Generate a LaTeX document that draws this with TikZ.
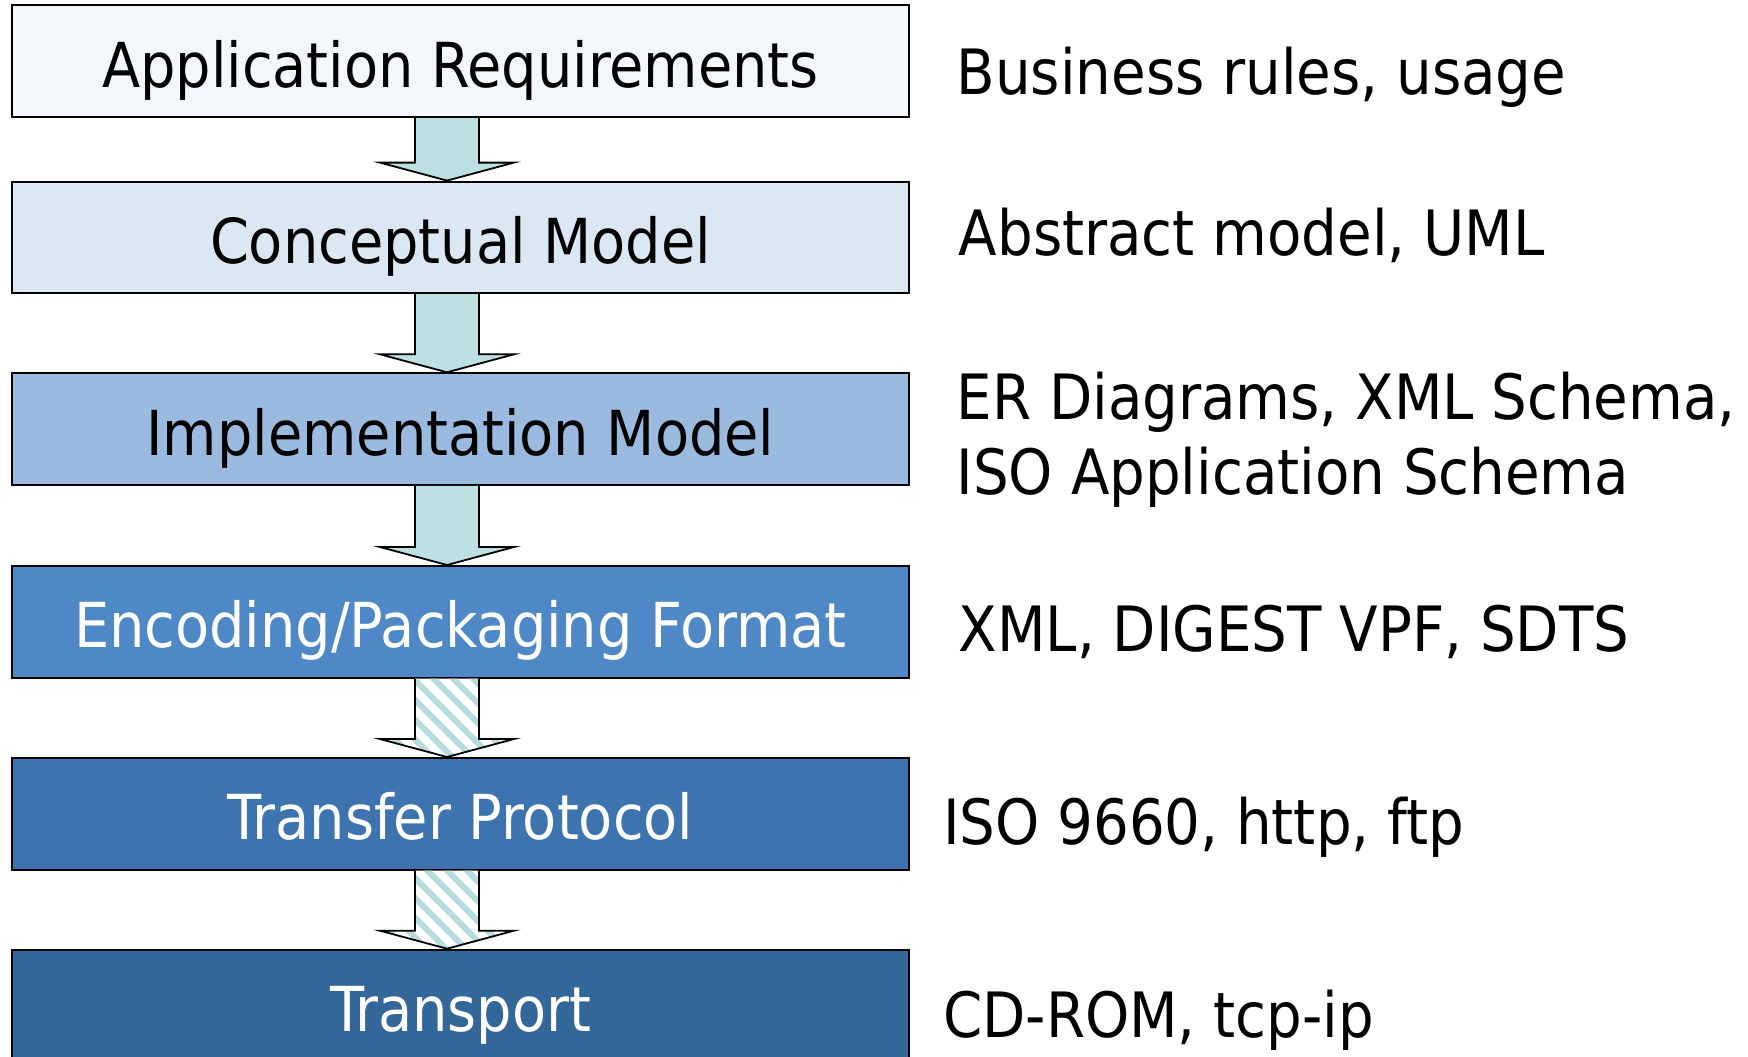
\documentclass[tikz,border=0pt]{standalone}
\usepackage{fontspec}
\setmainfont{DejaVu Sans Condensed}
\usetikzlibrary{calc,patterns.meta}
\definecolor{cA}{HTML}{F4F8FC}
\definecolor{cB}{HTML}{DCE7F4}
\definecolor{cC}{HTML}{9BBADF}
\definecolor{cD}{HTML}{4F88C6}
\definecolor{cE}{HTML}{3D74B0}
\definecolor{cF}{HTML}{336699}
\definecolor{arrowfill}{HTML}{BDE0E2}
\definecolor{stripe}{HTML}{B6DCDF}
\tikzset{
  layerbox/.style={draw=black, line width=2pt, minimum width=897pt, minimum height=111.5pt,
    inner sep=0pt, text height=52pt, text depth=0pt, anchor=north west,
    font=\fontsize{62}{70}\selectfont},
  sidelabel/.style={anchor=base west, inner sep=0pt, font=\fontsize{62.5}{70}\selectfont},
  solidarrow/.style={draw=black, line width=1.8pt, fill=arrowfill, line join=miter},
  hatcharrow/.style={draw=black, line width=1.8pt, line join=miter, preaction={fill=white},
    pattern={Lines[angle=-45,distance=14pt,line width=6pt]}, pattern color=stripe}
}
\newcommand\flowarrow[3]{%
  \draw[#3] ($(#1.south -| ax)+(-32,0)$) -- ($(#2.north -| ax)+(-32,-18)$)
    -- ($(#2.north -| ax)+(-67,-18)$) -- (#2.north -| ax)
    -- ($(#2.north -| ax)+(67,-18)$) -- ($(#2.north -| ax)+(32,-18)$)
    -- ($(#1.south -| ax)+(32,0)$);}
\begin{document}
\begin{tikzpicture}[x=1pt,y=-1pt]
\clip (0,0) rectangle (1748,1057);
\fill[white] (0,0) rectangle (1748,1057);
\coordinate (ax) at (447,0);
% boxes
\node[layerbox, fill=cA, text=black] (b1) at (11,4.5) {Application Requirements};
\node[layerbox, fill=cB, text=black] (b2) at (11,180.6) {Conceptual Model};
\node[layerbox, fill=cC, text=black] (b3) at (11,372.3) {Implementation Model};
\node[layerbox, fill=cD, text=white] (b4) at (11,565) {Encoding/Packaging Format};
\node[layerbox, fill=cE, text=white] (b5) at (11,757) {Transfer Protocol};
\node[layerbox, fill=cF, text=white] (b6) at (11,948.7) {Transport};
% arrows
\flowarrow{b1}{b2}{solidarrow}
\flowarrow{b2}{b3}{solidarrow}
\flowarrow{b3}{b4}{solidarrow}
\flowarrow{b4}{b5}{hatcharrow}
\flowarrow{b5}{b6}{hatcharrow}
% side labels
\node[sidelabel] (l1) at (956.5,94.8) {Business rules, usage};
\node[sidelabel] (l2) at (958.7,255) {Abstract model, UML};
\node[sidelabel] (l3a) at (956.5,419) {ER Diagrams, XML Schema,};
\node[sidelabel] (l3b) at (956.5,494) {ISO Application Schema};
\node[sidelabel] (l4) at (958.7,651) {XML, DIGEST VPF, SDTS};
\node[sidelabel] (l5) at (943,844) {ISO 9660, http, ftp};
\node[sidelabel] (l6) at (943,1037) {CD-ROM, tcp-ip};
\end{tikzpicture}
\end{document}
